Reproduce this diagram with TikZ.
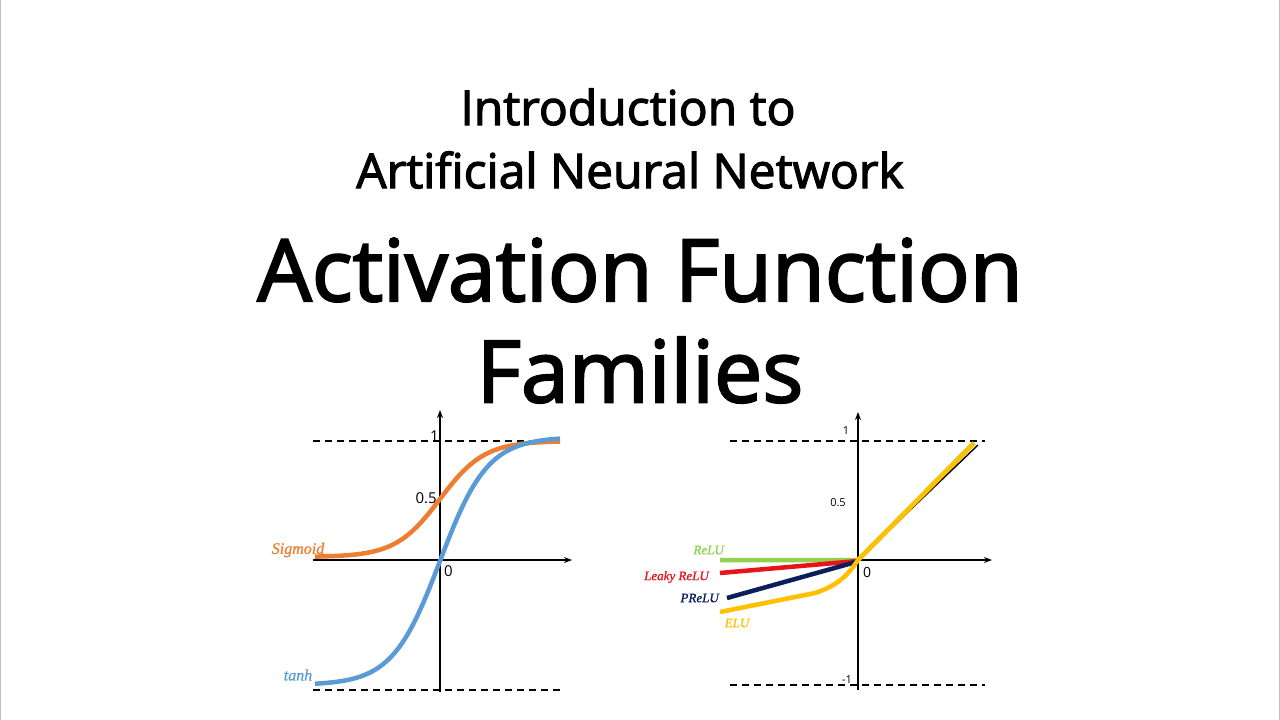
\documentclass[tikz,border=0pt]{standalone}
\usepackage{fontspec}
\setmainfont{Open Sans}
\newfontfamily\lblfont{Liberation Serif}
\usetikzlibrary{arrows.meta}
\definecolor{cor}{HTML}{ED7D31}
\definecolor{cbl}{HTML}{5B9BD5}
\definecolor{cgr}{HTML}{92D050}
\definecolor{crd}{HTML}{E8141C}
\definecolor{cnv}{HTML}{0A1F5C}
\definecolor{cye}{HTML}{FFC000}
\begin{document}
\begin{tikzpicture}[x=1pt,y=-1pt,
  ax/.style={line width=1.4pt,-{Stealth[length=8pt,width=6pt]}},
  dsh/.style={line width=1.2pt,dash pattern=on 7pt off 5pt},
  crv/.style={line width=4.5pt},
  ttl/.style={font=\addfontfeatures{FakeBold=2.4}},
  lbl/.style={inner sep=0pt,font=\fontsize{12}{14}\selectfont},
  fl/.style={inner sep=0pt,font=\lblfont\itshape\addfontfeatures{FakeBold=1}}]
\useasboundingbox (0,0) rectangle (1280,720);
\draw[gray!50,line width=1pt] (0.5,0) -- (0.5,720) (1279.5,0) -- (1279.5,720);
\node[ttl] (t1) at (628,107) {\fontsize{48}{56}\selectfont Introduction to};
\node[ttl] (t2) at (630,170) {\fontsize{48}{56}\selectfont Artificial Neural Network};
\node[ttl] (t3) at (640,270) {\fontsize{86}{100}\selectfont Activation Function};
\node[ttl] (t4) at (640,370) {\fontsize{86}{100}\selectfont Families};
% left plot
\draw[dsh] (313,441) -- (562,441);
\draw[dsh] (313,690) -- (562,690);
\draw[ax] (313,560) -- (572,560);
\draw[ax] (440,692) -- (440,410);
\draw[crv,cor,domain=315:560,samples=80] plot ({\x},{557-116/(1+exp(-0.045*(\x-440)))});
\draw[crv,cbl,domain=315:560,samples=80] plot ({\x},{561-124*tanh(0.021*(\x-440))});
\node[lbl,anchor=south west] (one) at (430,442) {\fontsize{15}{17}\selectfont 1};
\node[lbl,anchor=east] (half) at (437,498) {\fontsize{15}{17}\selectfont 0.5};
\node[lbl,anchor=north west] (zero) at (444,565) {\fontsize{15}{17}\selectfont 0};
\node[fl,cor] (sg) at (298,550) {\fontsize{16}{18}\selectfont Sigmoid};
\node[fl,cbl] (th) at (298,675) {\fontsize{16}{18}\selectfont tanh};
% right plot
\draw[dsh] (730,441) -- (985,441);
\draw[dsh] (730,685) -- (985,685);
\draw[ax] (858,560) -- (992,560);
\draw[ax] (858,690) -- (858,412);
\draw[line width=1.4pt] (858,560) -- (978,445);
\draw[crv,cgr] (720,560) -- (858,560) -- (974,443);
\draw[crv,crd] (720,573) -- (858,561);
\draw[crv,cnv] (727,598) -- (856,562);
\draw[crv,cye] (720,612) -- (815,593) .. controls (840,585) and (850,572) .. (858,560) -- (974,443);
\node[lbl] (r1) at (846,431) {\fontsize{11}{13}\selectfont 1};
\node[lbl] (r5) at (838,503) {\fontsize{11}{13}\selectfont 0.5};
\node[lbl] (rm) at (847,680) {\fontsize{11}{13}\selectfont -1};
\node[lbl] (r0) at (867,572) {\fontsize{14}{16}\selectfont 0};
\node[fl,cgr,anchor=east] (lr) at (724,550) {\fontsize{13}{15}\selectfont ReLU};
\node[fl,crd,anchor=east] (ll) at (709,577) {\fontsize{13}{15}\selectfont Leaky ReLU};
\node[fl,cnv,anchor=east] (lp) at (719,598) {\fontsize{13}{15}\selectfont PReLU};
\node[fl,cye] (le) at (737,623) {\fontsize{13}{15}\selectfont ELU};
\end{tikzpicture}
\end{document}
